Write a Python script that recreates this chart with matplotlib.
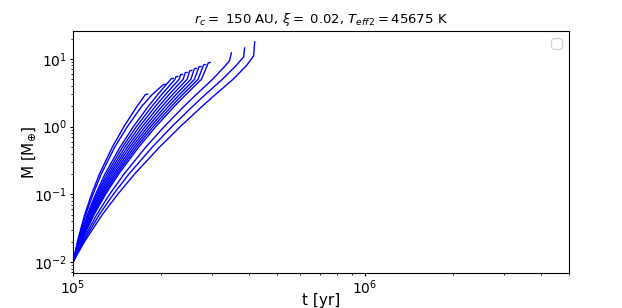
import numpy as np
import matplotlib
matplotlib.use("Agg")
import matplotlib.pyplot as plt

nan = np.nan

#mass levels the tracks are read at [M_earth]
mass_grid = [0.01, 0.02, 0.05, 0.1, 0.2, 0.5, 1, 2, 3, 5, 8]

#time [yr] at which each track reaches the masses above (nan = not reached)
t_grid = [
    [1.0e5, 1.035e5, 1.096e5, 1.157e5, 1.232e5, 1.364e5, 1.494e5, 1.657e5, nan, nan, nan],
    [1.0e5, 1.040e5, 1.105e5, 1.170e5, 1.250e5, 1.390e5, 1.535e5, 1.720e5, 1.870e5, nan, nan],
    [1.0e5, 1.044e5, 1.119e5, 1.194e5, 1.287e5, 1.450e5, 1.610e5, 1.812e5, 1.954e5, 2.162e5, nan],
    [1.0e5, 1.046e5, 1.127e5, 1.206e5, 1.306e5, 1.478e5, 1.649e5, 1.864e5, 2.015e5, 2.236e5, nan],
    [1.0e5, 1.049e5, 1.134e5, 1.218e5, 1.324e5, 1.507e5, 1.688e5, 1.916e5, 2.076e5, 2.310e5, nan],
    [1.0e5, 1.052e5, 1.142e5, 1.230e5, 1.342e5, 1.536e5, 1.727e5, 1.968e5, 2.136e5, 2.384e5, nan],
    [1.0e5, 1.055e5, 1.149e5, 1.243e5, 1.360e5, 1.564e5, 1.766e5, 2.019e5, 2.197e5, 2.459e5, nan],
    [1.0e5, 1.057e5, 1.157e5, 1.255e5, 1.379e5, 1.593e5, 1.805e5, 2.071e5, 2.258e5, 2.533e5, nan],
    [1.0e5, 1.060e5, 1.164e5, 1.267e5, 1.397e5, 1.622e5, 1.843e5, 2.123e5, 2.319e5, 2.607e5, nan],
    [1.0e5, 1.063e5, 1.172e5, 1.280e5, 1.415e5, 1.650e5, 1.882e5, 2.175e5, 2.379e5, 2.681e5, nan],
    [1.0e5, 1.066e5, 1.180e5, 1.292e5, 1.434e5, 1.679e5, 1.921e5, 2.226e5, 2.440e5, 2.755e5, nan],
    [1.0e5, 1.075e5, 1.205e5, 1.334e5, 1.496e5, 1.776e5, 2.053e5, 2.402e5, 2.647e5, 3.006e5, 3.33e5],
    [1.0e5, 1.084e5, 1.230e5, 1.374e5, 1.555e5, 1.870e5, 2.180e5, 2.571e5, 2.845e5, 3.248e5, 3.62e5],
    [1.0e5, 1.095e5, 1.259e5, 1.422e5, 1.626e5, 1.980e5, 2.330e5, 2.770e5, 3.079e5, 3.533e5, 3.93e5],
]

#end of the smooth part of each track
t_bend = [1.77e5, 2.04e5, 2.172e5, 2.252e5, 2.335e5, 2.422e5, 2.512e5,
          2.605e5, 2.701e5, 2.802e5, 2.906e5, 3.436e5, 3.84e5, 4.156e5]
m_bend = [2.98, 4.18, 5.11, 5.47, 5.85, 6.26, 6.70,
          7.17, 7.66, 8.20, 8.77, 9.4, 10.7, 11.1]

#last point (short flat tick on the inner tracks, steep rise on the outer ones)
t_tip = [1.80e5, 2.07e5, 2.205e5, 2.285e5, 2.37e5, 2.46e5, 2.55e5,
         2.645e5, 2.745e5, 2.845e5, 2.95e5, 3.487e5, 3.87e5, 4.19e5]
m_tip = [3.01, 4.22, 5.16, 5.52, 5.91, 6.32, 6.77,
         7.24, 7.74, 8.28, 8.86, 12.3, 14.5, 17.8]


fig = plt.figure(figsize=(6.22, 3.08), dpi=100)
ax = fig.add_axes([0.1174, 0.1136, 0.7974, 0.7858])

for i in range(len(t_grid)):
    t = np.array(t_grid[i])
    m = np.array(mass_grid)
    keep = ~np.isnan(t)
    t = list(t[keep]) + [t_bend[i], t_tip[i]]
    m = list(m[keep]) + [m_bend[i], m_tip[i]]
    ax.plot(t, m, color="b", lw=1.0)

ax.set_xscale("log")
ax.set_yscale("log")
ax.set_xlim(1e5, 5e6)

ax.set_xlabel("t [yr]", fontsize=11)
ax.set_ylabel(r"M [M$_{\oplus}$]", fontsize=11)
ax.xaxis.set_label_coords(0.5, -0.083)
ax.yaxis.set_label_coords(-0.07, 0.5)
ax.set_title(r"$r_c=$ 150 AU, $\xi=$ 0.02, $T_{eff2}=45675$ K", fontsize=9.5)
ax.tick_params(which="major", labelsize=10, length=2.2, pad=2)
ax.tick_params(which="minor", length=1.3)
ax.legend()

plt.savefig("out.png", dpi=100)
